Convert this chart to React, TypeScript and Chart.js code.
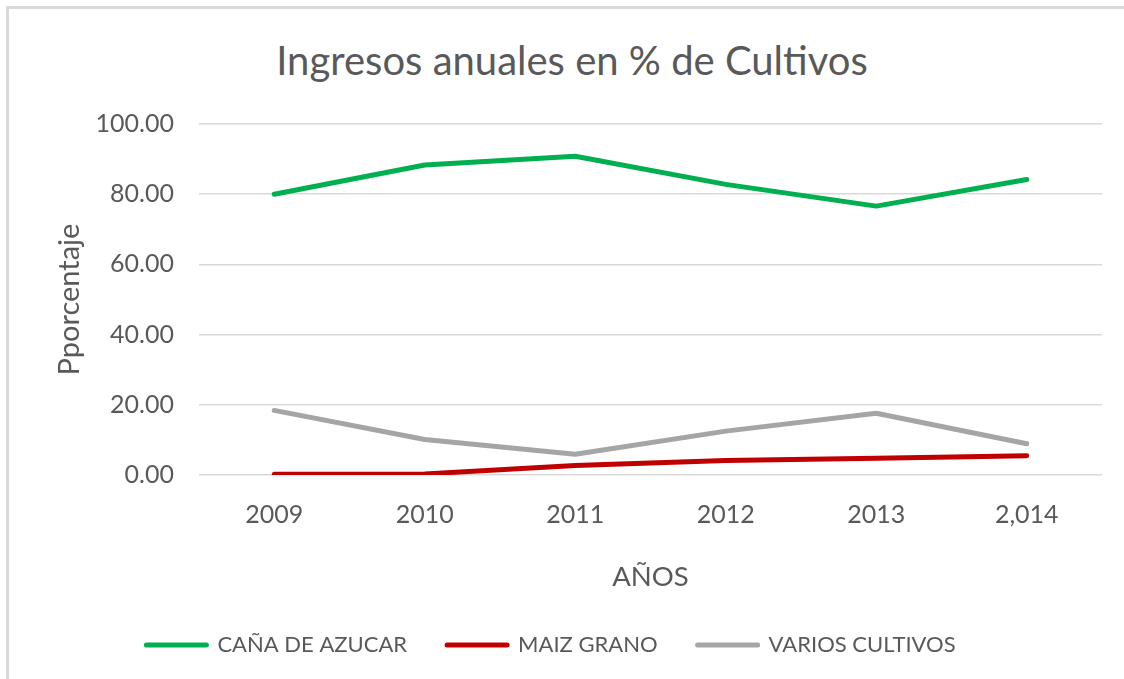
import React, { useEffect, useRef } from "react";
import { Chart, registerables } from "chart.js";

Chart.register(...registerables);

const categories = ["2009", "2010", "2011", "2012", "2013", "2,014"];
const canaValues = [80.0, 88.3, 90.8, 82.8, 76.6, 84.2];
const maizValues = [0.2, 0.3, 2.7, 4.1, 4.8, 5.5];
const variosValues = [18.4, 10.1, 5.9, 12.5, 17.6, 8.9];
const seriesNames = ["CAÑA DE AZUCAR", "MAIZ GRANO", "VARIOS CULTIVOS"];
const seriesColors = ["#00B050", "#C00000", "#A5A5A5"];
const titleText = "Ingresos anuales en % de Cultivos";
const yTitle = "Pporcentaje";
const xTitle = "AÑOS";

const FONT = "Lato, 'Open Sans', sans-serif";
const TEXT = "#595959";

export default function App() {
  const ref = useRef<HTMLCanvasElement | null>(null);

  useEffect(() => {
    if (!ref.current) return;
    const values = [canaValues, maizValues, variosValues];
    const chart = new Chart(ref.current, {
      type: "line",
      data: {
        labels: categories,
        datasets: seriesNames.map((name, i) => ({
          label: name,
          data: values[i],
          borderColor: seriesColors[i],
          backgroundColor: seriesColors[i],
          borderWidth: 5,
          pointRadius: 0,
          tension: 0,
          borderCapStyle: "round" as const,
          borderJoinStyle: "round" as const,
        })),
      },
      options: {
        animation: false,
        responsive: false,
        maintainAspectRatio: false,
        layout: { padding: { left: 0, right: 22, top: 124, bottom: 13 } },
        plugins: {
          title: { display: false },
          legend: {
            position: "bottom",
            labels: {
              color: TEXT,
              font: { family: FONT, size: 22 },
              usePointStyle: true,
              pointStyleWidth: 60,
              padding: 40,
              generateLabels: (c: any) => {
                const items = Chart.defaults.plugins.legend.labels.generateLabels(c);
                return items.map((it: any) => ({
                  ...it,
                  pointStyle: "line",
                  lineWidth: 5,
                  lineCap: "round",
                }));
              },
            },
          },
          tooltip: { enabled: false },
        },
        scales: {
          x: {
            offset: true,
            grid: { display: false, drawTicks: false },
            border: { display: false },
            ticks: {
              color: TEXT,
              font: { family: FONT, size: 25 },
              padding: 25,
              maxRotation: 0,
            },
            title: {
              display: true,
              text: xTitle,
              color: TEXT,
              font: { family: FONT, size: 27.5 },
              padding: { top: 6, bottom: 0 },
            },
          },
          y: {
            min: 0,
            max: 100,
            ticks: {
              stepSize: 20,
              color: TEXT,
              font: { family: FONT, size: 25 },
              padding: 25,
              callback: (v: any) => Number(v).toFixed(2),
            },
            grid: { color: "#D9D9D9", lineWidth: 1.5, drawTicks: false },
            border: { display: false },
            title: {
              display: true,
              text: yTitle,
              color: TEXT,
              font: { family: FONT, size: 29 },
              padding: { top: 52, bottom: 0 },
            },
            afterFit: (scale: any) => {
              scale.width = 199;
            },
          },
        },
      },
    });
    return () => chart.destroy();
  }, []);

  return (
    <div style={{ position: "absolute", left: 0, top: 0, width: 1124, height: 679, overflow: "hidden", background: "#fff" }}>
      <div
        style={{
          position: "absolute",
          left: 6,
          top: 6,
          width: 1200,
          height: 800,
          borderLeft: "3px solid #DADADA",
          borderTop: "3px solid #DADADA",
        }}
      />
      <div
        style={{
          position: "absolute",
          left: 0,
          top: 36,
          width: 1144,
          textAlign: "center",
          fontFamily: FONT,
          fontSize: 40,
          lineHeight: "48px",
          color: TEXT,
          whiteSpace: "nowrap",
        }}
      >
        {titleText}
      </div>
      <canvas ref={ref} width={1124} height={679} style={{ position: "absolute", left: 0, top: 0 }} />
    </div>
  );
}
